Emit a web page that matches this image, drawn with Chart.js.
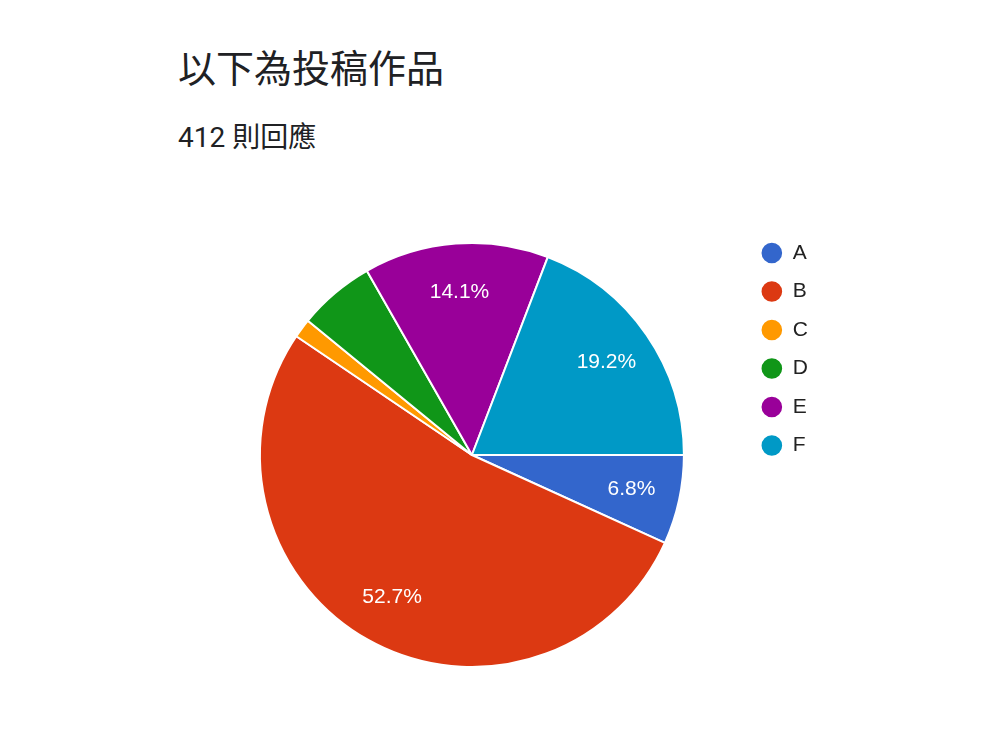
<!DOCTYPE html>
<html>
<head>
<meta charset="utf-8">
<script src="https://cdn.jsdelivr.net/npm/chart.js@4.4.1/dist/chart.umd.min.js"></script>
<style>
  html, body { margin: 0; padding: 0; background: #fff; }
  #wrap { position: relative; width: 989px; height: 741px; overflow: hidden; }
  #title, #sub {
    position: absolute; left: 178px; margin: 0; white-space: nowrap;
    font-family: Roboto, "Noto Sans CJK TC", sans-serif; font-weight: 400; color: #202124;
    line-height: 1;
  }
  #title { top: 50px; font-size: 38px; }
  #sub { top: 124px; font-size: 28px; }
  #box { position: absolute; left: 0; top: 0; width: 989px; height: 741px; }
</style>
</head>
<body>
<div id="wrap">
  <div id="title">以下為投稿作品</div>
  <div id="sub">412 則回應</div>
  <div id="box"><canvas id="pie"></canvas></div>
</div>
<script>
// responses per option (412 in total)
const labels = ['A', 'B', 'C', 'D', 'E', 'F'];
const counts = [28, 217, 6, 24, 58, 79];
const colors = ['#3366cc', '#dc3912', '#ff9900', '#109618', '#990099', '#0099c6'];
const minLabelPct = 6;

const total = counts.reduce((a, b) => a + b, 0);

// white percent text inside the bigger slices
const sliceText = {
  id: 'sliceText',
  afterDatasetsDraw(chart) {
    const ctx = chart.ctx;
    const meta = chart.getDatasetMeta(0);
    ctx.save();
    ctx.fillStyle = '#ffffff';
    ctx.font = '21px "Liberation Sans", Arial, sans-serif';
    ctx.textAlign = 'center';
    ctx.textBaseline = 'middle';
    meta.data.forEach((arc, i) => {
      let pct = counts[i] / total * 100;
      if (pct < minLabelPct) return;
      let p = arc.getProps(['x', 'y', 'startAngle', 'endAngle', 'outerRadius'], true);
      let mid = (p.startAngle + p.endAngle) / 2;
      let r = p.outerRadius * 0.77;
      ctx.fillText(pct.toFixed(1) + '%', p.x + Math.cos(mid) * r, p.y + Math.sin(mid) * r);
    });
    ctx.restore();
  }
};

new Chart(document.getElementById('pie'), {
  type: 'pie',
  data: {
    labels: labels,
    datasets: [{
      data: counts,
      backgroundColor: colors,
      borderColor: '#ffffff',
      borderWidth: 2,
      hoverOffset: 0
    }]
  },
  options: {
    responsive: true,
    maintainAspectRatio: false,
    animation: false,
    rotation: 90,
    radius: 212,
    layout: {
      padding: { top: 225, bottom: 56, left: 200, right: 171 }
    },
    plugins: {
      tooltip: { enabled: false },
      legend: {
        position: 'right',
        align: 'start',
        labels: {
          usePointStyle: true,
          pointStyle: 'circle',
          boxWidth: 21,
          boxHeight: 16,
          padding: 17.5,
          color: '#222222',
          font: { family: '"Liberation Sans", Arial, sans-serif', size: 21 }
        }
      }
    }
  },
  plugins: [sliceText]
});
</script>
</body>
</html>
